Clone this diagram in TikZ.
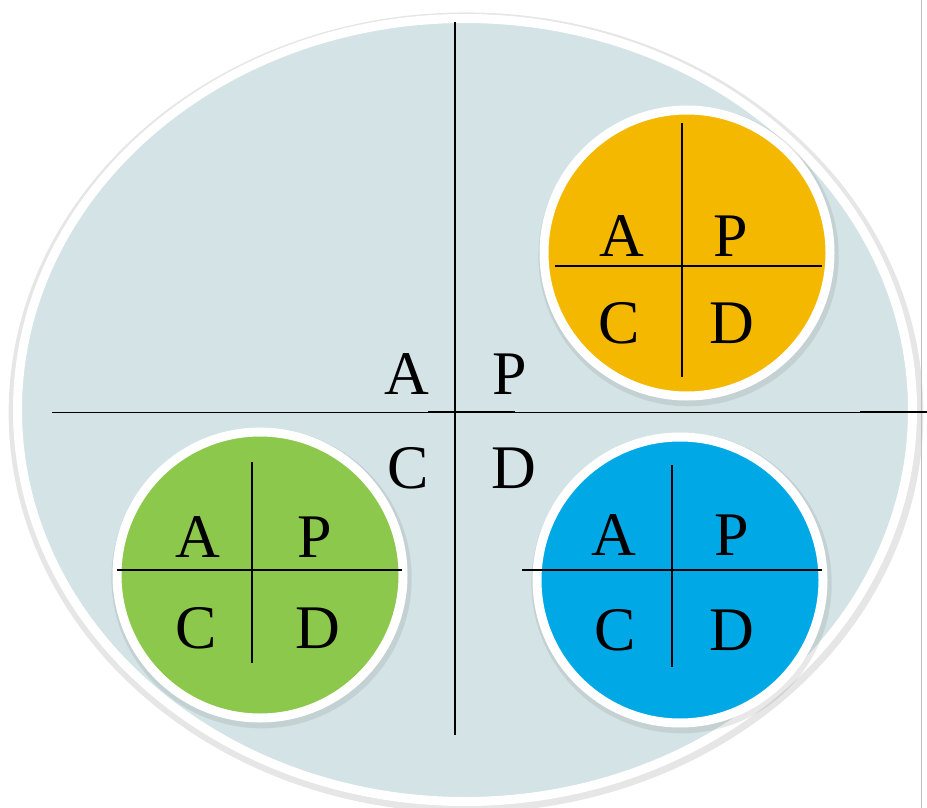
\documentclass[tikz,border=0pt]{standalone}
\usepackage{fontspec}
\setmainfont{Liberation Serif}
\usetikzlibrary{shapes.geometric,shadows}

\definecolor{fieldfill}{HTML}{D3E3E6}
\definecolor{orangefill}{HTML}{F5B800}
\definecolor{greenfill}{HTML}{8CC84B}
\definecolor{bluefill}{HTML}{00A8E6}

\tikzset{
  disc/.style={circle, draw=white, line width=9pt, minimum size=286pt, inner sep=0pt,
    drop shadow={shadow xshift=1.5pt, shadow yshift=-3pt, shadow scale=1.05, opacity=0.18}},
  quad/.style={inner sep=0pt, font=\fontsize{62}{62}\selectfont},
  axis/.style={line width=1.6pt},
}

\begin{document}
\begin{tikzpicture}[x=1pt,y=1pt,yscale=-1,xscale=1]
    \useasboundingbox (0,0) rectangle (927,808);
    % big field
    \node (field) at (465,410) [ellipse, fill=fieldfill, draw=white, line width=9pt, minimum width=895pt, minimum height=783pt,
      drop shadow={shadow xshift=1pt, shadow yshift=-2.5pt, shadow scale=1.022, opacity=0.2}] {};
    \draw [black!25, line width=0.8pt] (921,0) -- (921,808);
    % main cross
    \draw [axis] (455,22) -- (455,735);
    \draw [line width=1pt] (52,412) -- (860,412);
    \draw [axis] (428,412) -- (515,412);
    \draw [axis] (860,412) -- (927,412);
    \node (mainA) at (407,374) [quad] {A};
    \node (mainP) at (510,374) [quad] {P};
    \node (mainC) at (408,468) [quad] {C};
    \node (mainD) at (514,468) [quad] {D};
    % orange disc
    \node (orange) at (687,253) [disc, fill=orangefill] {};
    \draw [axis] (682,123) -- (682,377);
    \draw [axis] (555,266) -- (822,266);
    \node (orangeA) at (622,236) [quad] {A};
    \node (orangeP) at (731,236) [quad] {P};
    \node (orangeC) at (619,323) [quad] {C};
    \node (orangeD) at (732,323) [quad] {D};
    % green disc
    \node (green) at (260,575) [disc, fill=greenfill] {};
    \draw [axis] (252,462) -- (252,663);
    \draw [axis] (117,570) -- (402,570);
    \node (greenA) at (198,537) [quad] {A};
    \node (greenP) at (315,537) [quad] {P};
    \node (greenC) at (196,628) [quad] {C};
    \node (greenD) at (318,628) [quad] {D};
    % blue disc
    \node (blue) at (680,580) [disc, fill=bluefill] {};
    \draw [axis] (672,465) -- (672,667);
    \draw [axis] (522,570) -- (822,570);
    \node (blueA) at (614,535) [quad] {A};
    \node (blueP) at (732,535) [quad] {P};
    \node (blueC) at (615,630) [quad] {C};
    \node (blueD) at (732,630) [quad] {D};
\end{tikzpicture}
\end{document}
